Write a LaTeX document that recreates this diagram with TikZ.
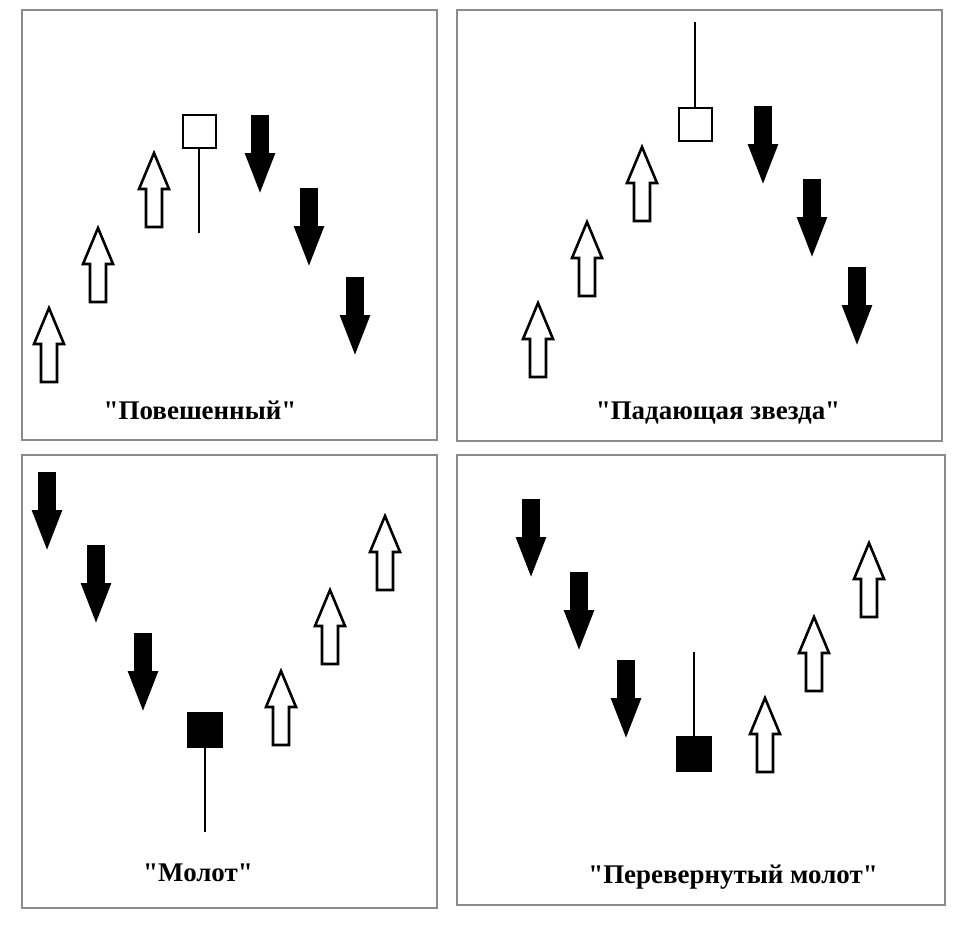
\documentclass[tikz,border=0pt]{standalone}
\usepackage{fontspec}
\setmainfont{Liberation Serif}
\tikzset{panel/.style={draw=black!45, line width=2pt}}
\tikzset{lbl/.style={font=\fontsize{23}{27}\selectfont\bfseries}}
\tikzset{wick/.style={line width=1.2pt}}
\tikzset{bull/.style={draw, fill=white, line width=2.2pt}}
\tikzset{bear/.style={draw, fill=black, line width=1.6pt}}
\tikzset{
  uparr/.pic={\draw[bull] (0,0)--(15,36)--(8,36)--(8,74)--(-8,74)--(-8,36)--(-15,36)--cycle;},
  dnarr/.pic={\draw[bear] (-8,0)--(8,0)--(8,38)--(14,38)--(0,74)--(-14,38)--(-8,38)--cycle;}
}
\newcommand\qq{\textquotedbl}
\begin{document}
\begin{tikzpicture}[x=0.03cm, y=-0.03cm]
\useasboundingbox (0,0) rectangle (964,924);
% panels
\draw[panel] (22,10) rectangle (437,440);
\draw[panel] (457,10) rectangle (942,441);
\draw[panel] (22,455) rectangle (437,908);
\draw[panel] (457,455) rectangle (945,905);

% hanging man
\foreach \x/\y in {49/308, 98/228, 154/153} \pic at (\x,\y) {uparr};
\foreach \x/\y in {260/116, 309/189, 355/278} \pic at (\x,\y) {dnarr};
\draw[wick] (199,148)--(199,233);
\draw[bull] (183,115) rectangle (216,148);
\node[lbl] (t1) at (200,410) {\qq Повешенный\qq};

% shooting star
\foreach \x/\y in {538/303, 587/222, 642/147} \pic at (\x,\y) {uparr};
\foreach \x/\y in {763/107, 812/180, 857/268} \pic at (\x,\y) {dnarr};
\draw[wick] (695,22)--(695,108);
\draw[bull] (679,108) rectangle (712,141);
\node[lbl] (t2) at (718,413) {\qq Падающая звезда\qq};

% hammer
\foreach \x/\y in {47/473, 96/546, 143/634} \pic at (\x,\y) {dnarr};
\foreach \x/\y in {281/671, 330/590, 385/516} \pic at (\x,\y) {uparr};
\draw[wick] (205,747)--(205,832);
\draw[bear] (188,713) rectangle (222,747);
\node[lbl] (t3) at (198,873) {\qq Молот\qq};

% inverted hammer
\foreach \x/\y in {531/500, 579/573, 626/661} \pic at (\x,\y) {dnarr};
\foreach \x/\y in {765/698, 814/617, 869/543} \pic at (\x,\y) {uparr};
\draw[wick] (694,652)--(694,737);
\draw[bear] (677,737) rectangle (711,771);
\node[lbl] (t4) at (733,877) {\qq Перевернутый молот\qq};
\end{tikzpicture}
\end{document}
